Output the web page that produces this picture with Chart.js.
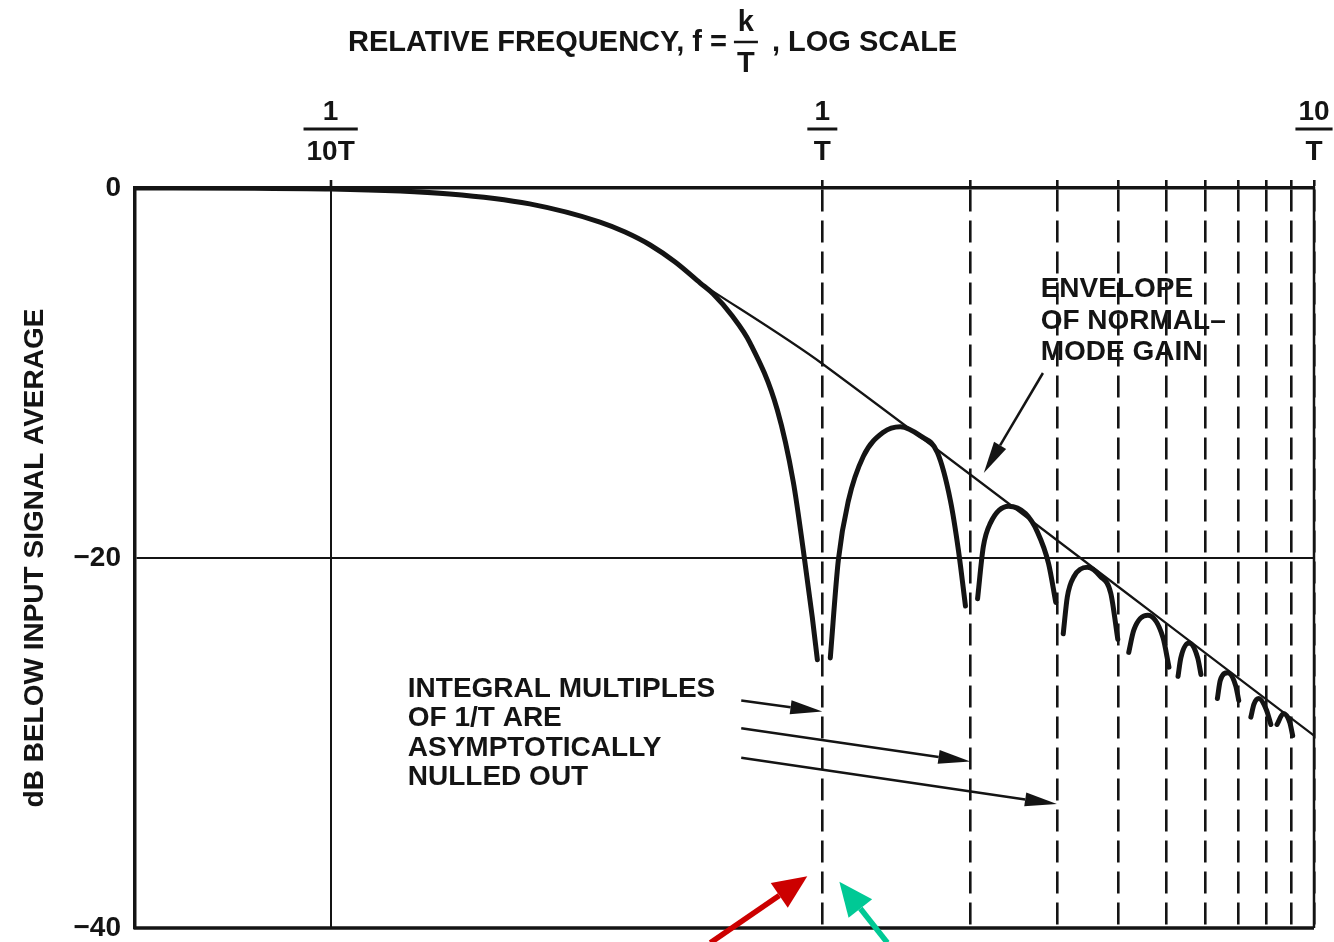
<!DOCTYPE html>
<html>
<head>
<meta charset="utf-8">
<script src="https://cdn.jsdelivr.net/npm/chart.js@4.4.1/dist/chart.umd.min.js"></script>
<style>
  html, body { margin: 0; padding: 0; background: #fff; }
  canvas { display: block; }
</style>
</head>
<body>
<canvas id="myChart" width="1334" height="942"></canvas>
<script>
// values: frequency in units of 1/T, gain in dB
// a null gain breaks the pen line (the nulls are drawn open)
const gainFreq = [
  0.04, 0.07, 0.1, 0.1746, 0.254, 0.353, 0.397, 0.4465, 0.502, 0.5646, 0.6, 0.656, 0.713, 0.81, 0.873, 0.915, 0.954, 0.977, 1.0,
  1.038, 1.078, 1.13, 1.212, 1.331, 1.441, 1.583, 1.714, 1.822, 1.892, 1.955, 2.0,
  2.069, 2.125, 2.198, 2.392, 2.59, 2.739, 2.885, 2.984, 3.03,
  3.09, 3.15, 3.25, 3.46, 3.68, 3.86, 3.99, 4.1,
  4.2, 4.3, 4.59, 4.93, 5.07, 5.18,
  5.29, 5.36, 5.57, 5.8, 5.89, 6.1,
  6.36, 6.45, 6.68, 6.93, 7.03, 7.2,
  7.44, 7.55, 7.72, 8.0, 8.17, 8.3,
  8.41, 8.67, 8.93, 9.05
];
const gainDb = [
  0, -0.02, -0.05, -0.32, -0.86, -1.84, -2.38, -3.08, -4.0, -5.14, -5.73, -6.92, -8.38, -12.0, -15.9, -19.6, -23.2, -25.5, null,
  -25.4, -20.1, -16.9, -14.5, -13.2, -12.9, -13.4, -14.3, -16.9, -19.6, -22.6, null,
  -22.2, -19.4, -18.1, -17.2, -17.6, -18.6, -20.3, -22.4, null,
  -24.1, -22.1, -21.0, -20.5, -21.0, -21.9, -24.4, null,
  -25.1, -23.9, -23.1, -24.3, -25.9, null,
  -26.4, -25.4, -24.6, -25.4, -26.3, null,
  -27.6, -26.6, -26.2, -26.9, -27.7, null,
  -28.6, -27.9, -27.6, -28.2, -29.0, null,
  -29.0, -28.4, -28.9, -29.6
];
const envelopeFreq = [0.5646, 1, 10];
const envelopeDb = [-5.14, -9.5, -29.6];

const xTickValues = [0.1, 1, 2, 3, 4, 5, 6, 7, 8, 9, 10];
const xTickNumer = ['1', '1', '', '', '', '', '', '', '', '', '10'];
const xTickDenom = ['10T', 'T', '', '', '', '', '', '', '', '', 'T'];
const yTickValues = [0, -20, -40];
const yTickLabels = ['0', '\u221220', '\u221240'];

const FONT = '"Liberation Sans", Arial, Helvetica, sans-serif';
const INK = '#141414';

// annotations, anchored in data units (f, dB)
const envelopeNote = { f: 2.78, db: -5.9, lines: ['ENVELOPE', 'OF NORMAL\u2013', 'MODE GAIN'], gap: 31.5 };
const nullNote = { f: 0.1435, db: -27.5, lines: ['INTEGRAL MULTIPLES', 'OF 1/T ARE', 'ASYMPTOTICALLY', 'NULLED OUT'], gap: 29.5 };
const blackArrows = [
  [[2.81, -10.0], [2.13, -15.4]],
  [[0.684, -27.7], [1, -28.3]],
  [[0.684, -29.2], [2, -31.0]],
  [[0.684, -30.8], [3, -33.3]]
];
const colorArrows = [
  { from: [0.592, -40.8], to: [0.932, -37.2], color: '#cc0000' },
  { from: [1.356, -40.8], to: [1.083, -37.5], color: '#00c995' }
];

function arrow(ctx, x1, y1, x2, y2, color, width, headLen, headHalf) {
  const a = Math.atan2(y2 - y1, x2 - x1);
  const bx = x2 - headLen * Math.cos(a), by = y2 - headLen * Math.sin(a);
  ctx.save();
  ctx.strokeStyle = color;
  ctx.fillStyle = color;
  ctx.lineWidth = width;
  ctx.beginPath();
  ctx.moveTo(x1, y1);
  ctx.lineTo(bx, by);
  ctx.stroke();
  ctx.beginPath();
  ctx.moveTo(x2, y2);
  ctx.lineTo(bx + headHalf * Math.sin(a), by - headHalf * Math.cos(a));
  ctx.lineTo(bx - headHalf * Math.sin(a), by + headHalf * Math.cos(a));
  ctx.closePath();
  ctx.fill();
  ctx.restore();
}

const notesPlugin = {
  id: 'notes',
  beforeDraw(chart) {
    const ctx = chart.ctx;
    ctx.save();
    ctx.fillStyle = '#fff';
    ctx.fillRect(0, 0, chart.width, chart.height);
    ctx.restore();
  },
  afterDraw(chart) {
    const { ctx, chartArea: area } = chart;
    const xs = chart.scales.x, ys = chart.scales.y;
    ctx.save();

    // right and bottom of the frame
    ctx.strokeStyle = INK;
    ctx.lineWidth = 3.5;
    ctx.beginPath();
    ctx.moveTo(area.left - 1.5, area.bottom);
    ctx.lineTo(area.right, area.bottom);
    ctx.stroke();
    ctx.lineWidth = 2.5;
    ctx.beginPath();
    ctx.moveTo(area.right, area.top - 1.5);
    ctx.lineTo(area.right, area.bottom);
    ctx.stroke();

    // fraction bars under the top tick numerators
    ctx.font = 'bold 28px ' + FONT;
    ctx.lineWidth = 3;
    xTickValues.forEach((v, i) => {
      if (!xTickNumer[i]) return;
      const px = xs.getPixelForValue(v);
      const w = Math.max(30, Math.max(ctx.measureText(xTickNumer[i]).width, ctx.measureText(xTickDenom[i]).width) + 6);
      ctx.beginPath();
      ctx.moveTo(px - w / 2, xs.bottom - 59);
      ctx.lineTo(px + w / 2, xs.bottom - 59);
      ctx.stroke();
    });

    // heading with k/T
    ctx.fillStyle = INK;
    ctx.font = 'bold 29px ' + FONT;
    ctx.textBaseline = 'alphabetic';
    ctx.textAlign = 'left';
    let tx = 348;
    const head = 'RELATIVE FREQUENCY, f =';
    ctx.fillText(head, tx, 51);
    tx += ctx.measureText(head).width + 7;
    ctx.beginPath();
    ctx.lineWidth = 2.5;
    ctx.moveTo(tx, 42);
    ctx.lineTo(tx + 24, 42);
    ctx.stroke();
    ctx.textAlign = 'center';
    ctx.fillText('k', tx + 12, 31);
    ctx.fillText('T', tx + 12, 72);
    ctx.textAlign = 'left';
    ctx.fillText(', LOG SCALE', tx + 38, 51);

    // text notes
    ctx.font = 'bold 28px ' + FONT;
    [envelopeNote, nullNote].forEach(n => {
      const px = xs.getPixelForValue(n.f), py = ys.getPixelForValue(n.db);
      n.lines.forEach((s, i) => ctx.fillText(s, px, py + i * n.gap));
    });
    ctx.restore();

    blackArrows.forEach(([a, b]) => {
      arrow(ctx, xs.getPixelForValue(a[0]), ys.getPixelForValue(a[1]),
        xs.getPixelForValue(b[0]), ys.getPixelForValue(b[1]), INK, 2.5, 32, 7);
    });
    colorArrows.forEach(c => {
      arrow(ctx, xs.getPixelForValue(c.from[0]), ys.getPixelForValue(c.from[1]),
        xs.getPixelForValue(c.to[0]), ys.getPixelForValue(c.to[1]), c.color, 5.5, 34, 15);
    });
  }
};

Chart.defaults.font.family = FONT;
Chart.defaults.color = INK;

new Chart(document.getElementById('myChart').getContext('2d'), {
  type: 'line',
  data: {
    datasets: [
      {
        label: 'normal-mode gain',
        data: gainFreq.map((f, i) => ({ x: f, y: gainDb[i] })),
        borderColor: INK,
        borderWidth: 5,
        borderCapStyle: 'round',
        borderJoinStyle: 'round',
        cubicInterpolationMode: 'monotone',
        pointRadius: 0,
        spanGaps: false
      },
      {
        label: 'envelope',
        data: envelopeFreq.map((f, i) => ({ x: f, y: envelopeDb[i] })),
        borderColor: INK,
        borderWidth: 2.2,
        tension: 0.3,
        pointRadius: 0
      }
    ]
  },
  options: {
    responsive: false,
    animation: false,
    layout: { padding: { top: 0, left: 0, right: 20, bottom: 14 } },
    plugins: {
      legend: { display: false },
      tooltip: { enabled: false },
      title: { display: false }
    },
    scales: {
      x: {
        type: 'logarithmic',
        position: 'top',
        min: 0.04,
        max: 10,
        bounds: 'data',
        afterBuildTicks: s => { s.ticks = xTickValues.map(v => ({ value: v })); },
        afterFit: s => { s.height = 188; s.paddingLeft = 0; s.paddingRight = 0; },
        ticks: {
          autoSkip: false,
          maxRotation: 0,
          padding: 8,
          font: { size: 28, weight: 'bold', lineHeight: 1.43 },
          callback: (v) => {
            const i = xTickValues.indexOf(v);
            return i >= 0 && xTickNumer[i] ? [xTickNumer[i], xTickDenom[i]] : '';
          }
        },
        grid: {
          color: INK,
          lineWidth: c => (c.tick && c.tick.value === 0.1 ? 2 : 2.6),
          tickLength: 8,
          tickWidth: 2.6,
          tickColor: INK
        },
        border: {
          display: true,
          color: INK,
          width: 3.5,
          dash: c => (c.tick && c.tick.value !== 0.1 ? [22, 9] : [])
        }
      },
      y: {
        type: 'linear',
        min: -40,
        max: 0,
        afterBuildTicks: s => { s.ticks = yTickValues.map(v => ({ value: v })); },
        afterFit: s => { s.width = 135; s.paddingTop = 0; s.paddingBottom = 0; },
        ticks: {
          padding: 14,
          font: { size: 28, weight: 'bold', lineHeight: 1.0 },
          callback: v => yTickLabels[yTickValues.indexOf(v)]
        },
        grid: {
          drawTicks: false,
          lineWidth: 2,
          color: c => (c.tick && c.tick.value === -20 ? INK : 'rgba(0,0,0,0)')
        },
        border: { display: true, color: INK, width: 3.5 },
        title: {
          display: true,
          text: 'dB BELOW INPUT SIGNAL AVERAGE',
          font: { size: 28, weight: 'bold' },
          padding: { top: 18, bottom: 0 }
        }
      }
    }
  },
  plugins: [notesPlugin]
});
</script>
</body>
</html>
